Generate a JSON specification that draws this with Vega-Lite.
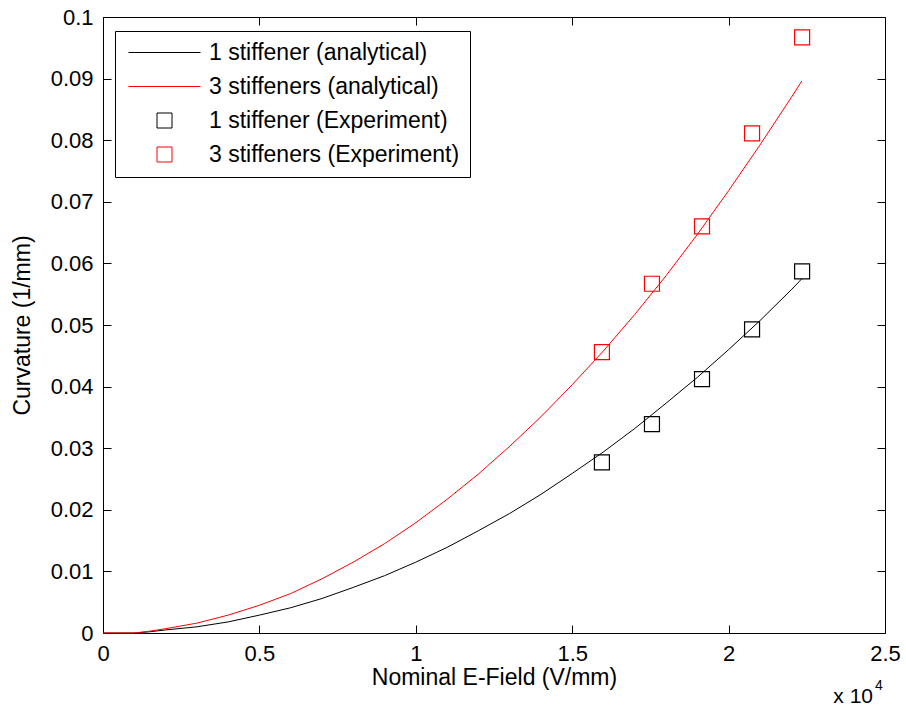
{
  "$schema": "https://vega.github.io/schema/vega-lite/v6.json",
  "width": 782,
  "height": 616,
  "autosize": "none",
  "padding": {"left": 103, "top": 17, "right": 21, "bottom": 75},
  "background": "white",
  "config": {
    "font": "Liberation Sans",
    "view": {"stroke": "black", "strokeWidth": 1},
    "axis": {
      "grid": false,
      "domainColor": "black",
      "tickColor": "black",
      "labelColor": "black",
      "titleColor": "black",
      "labelFont": "Liberation Sans",
      "titleFont": "Liberation Sans",
      "labelFontSize": 22,
      "titleFontSize": 23,
      "titleFontWeight": "normal",
      "tickSize": -8,
      "labelFlush": false,
      "labelOverlap": false
    },
    "legend": {
      "orient": "none",
      "legendX": 12,
      "legendY": 14,
      "strokeColor": "black",
      "fillColor": "white",
      "padding": 10,
      "labelFont": "Liberation Sans",
      "labelFontSize": 23,
      "labelColor": "black",
      "labelOffset": 33,
      "symbolOffset": 28,
      "rowPadding": 10,
      "symbolSize": 225,
      "symbolStrokeWidth": 1,
      "labelLimit": 400
    }
  },
  "datasets": {
    "analytical": [
      {"field": 0, "curvature": 0, "series": "1 stiffener (analytical)"},
      {"field": 0.1, "curvature": 0, "series": "1 stiffener (analytical)"},
      {"field": 0.15, "curvature": 0.0002, "series": "1 stiffener (analytical)"},
      {"field": 0.2, "curvature": 0.0005, "series": "1 stiffener (analytical)"},
      {"field": 0.3, "curvature": 0.001, "series": "1 stiffener (analytical)"},
      {"field": 0.4, "curvature": 0.0018, "series": "1 stiffener (analytical)"},
      {"field": 0.5, "curvature": 0.0029, "series": "1 stiffener (analytical)"},
      {"field": 0.6, "curvature": 0.0041, "series": "1 stiffener (analytical)"},
      {"field": 0.7, "curvature": 0.0056, "series": "1 stiffener (analytical)"},
      {"field": 0.8, "curvature": 0.0074, "series": "1 stiffener (analytical)"},
      {"field": 0.9, "curvature": 0.0093, "series": "1 stiffener (analytical)"},
      {"field": 1.0, "curvature": 0.0115, "series": "1 stiffener (analytical)"},
      {"field": 1.1, "curvature": 0.0139, "series": "1 stiffener (analytical)"},
      {"field": 1.2, "curvature": 0.0166, "series": "1 stiffener (analytical)"},
      {"field": 1.3, "curvature": 0.0194, "series": "1 stiffener (analytical)"},
      {"field": 1.4, "curvature": 0.0225, "series": "1 stiffener (analytical)"},
      {"field": 1.5, "curvature": 0.0259, "series": "1 stiffener (analytical)"},
      {"field": 1.6, "curvature": 0.0294, "series": "1 stiffener (analytical)"},
      {"field": 1.7, "curvature": 0.0332, "series": "1 stiffener (analytical)"},
      {"field": 1.8, "curvature": 0.0373, "series": "1 stiffener (analytical)"},
      {"field": 1.9, "curvature": 0.0415, "series": "1 stiffener (analytical)"},
      {"field": 2.0, "curvature": 0.046, "series": "1 stiffener (analytical)"},
      {"field": 2.1, "curvature": 0.0507, "series": "1 stiffener (analytical)"},
      {"field": 2.2, "curvature": 0.0557, "series": "1 stiffener (analytical)"},
      {"field": 2.234, "curvature": 0.0575, "series": "1 stiffener (analytical)"},
      {"field": 0, "curvature": 0, "series": "3 stiffeners (analytical)"},
      {"field": 0.1, "curvature": 0, "series": "3 stiffeners (analytical)"},
      {"field": 0.15, "curvature": 0.0003, "series": "3 stiffeners (analytical)"},
      {"field": 0.2, "curvature": 0.0007, "series": "3 stiffeners (analytical)"},
      {"field": 0.3, "curvature": 0.0016, "series": "3 stiffeners (analytical)"},
      {"field": 0.4, "curvature": 0.0029, "series": "3 stiffeners (analytical)"},
      {"field": 0.5, "curvature": 0.0045, "series": "3 stiffeners (analytical)"},
      {"field": 0.6, "curvature": 0.0064, "series": "3 stiffeners (analytical)"},
      {"field": 0.7, "curvature": 0.0088, "series": "3 stiffeners (analytical)"},
      {"field": 0.8, "curvature": 0.0115, "series": "3 stiffeners (analytical)"},
      {"field": 0.9, "curvature": 0.0145, "series": "3 stiffeners (analytical)"},
      {"field": 1.0, "curvature": 0.0179, "series": "3 stiffeners (analytical)"},
      {"field": 1.1, "curvature": 0.0217, "series": "3 stiffeners (analytical)"},
      {"field": 1.2, "curvature": 0.0258, "series": "3 stiffeners (analytical)"},
      {"field": 1.3, "curvature": 0.0303, "series": "3 stiffeners (analytical)"},
      {"field": 1.4, "curvature": 0.0351, "series": "3 stiffeners (analytical)"},
      {"field": 1.5, "curvature": 0.0403, "series": "3 stiffeners (analytical)"},
      {"field": 1.6, "curvature": 0.0458, "series": "3 stiffeners (analytical)"},
      {"field": 1.7, "curvature": 0.0517, "series": "3 stiffeners (analytical)"},
      {"field": 1.8, "curvature": 0.058, "series": "3 stiffeners (analytical)"},
      {"field": 1.9, "curvature": 0.0647, "series": "3 stiffeners (analytical)"},
      {"field": 2.0, "curvature": 0.0718, "series": "3 stiffeners (analytical)"},
      {"field": 2.1, "curvature": 0.0792, "series": "3 stiffeners (analytical)"},
      {"field": 2.2, "curvature": 0.0869, "series": "3 stiffeners (analytical)"},
      {"field": 2.234, "curvature": 0.0896, "series": "3 stiffeners (analytical)"}
    ],
    "experiment": [
      {"field": 1.595, "curvature": 0.0277, "series": "1 stiffener (Experiment)"},
      {"field": 1.755, "curvature": 0.0339, "series": "1 stiffener (Experiment)"},
      {"field": 1.915, "curvature": 0.0412, "series": "1 stiffener (Experiment)"},
      {"field": 2.075, "curvature": 0.0493, "series": "1 stiffener (Experiment)"},
      {"field": 2.235, "curvature": 0.0587, "series": "1 stiffener (Experiment)"},
      {"field": 1.595, "curvature": 0.0456, "series": "3 stiffeners (Experiment)"},
      {"field": 1.755, "curvature": 0.0567, "series": "3 stiffeners (Experiment)"},
      {"field": 1.915, "curvature": 0.066, "series": "3 stiffeners (Experiment)"},
      {"field": 2.075, "curvature": 0.0811, "series": "3 stiffeners (Experiment)"},
      {"field": 2.235, "curvature": 0.0967, "series": "3 stiffeners (Experiment)"}
    ],
    "note": [
      {"x": 2.5, "y": 0, "base": "x 10", "exp": "4"}
    ]
  },
  "layer": [
    {
      "data": {"name": "analytical"},
      "mark": {"type": "line", "strokeWidth": 1},
      "encoding": {
        "x": {
          "field": "field", "type": "quantitative",
          "scale": {"domain": [0, 2.5], "nice": false, "zero": false},
          "axis": {"orient": "bottom", "values": [0, 0.5, 1, 1.5, 2, 2.5], "format": "~g", "title": "Nominal E-Field (V/mm)", "labelPadding": 18, "titlePadding": 2}
        },
        "y": {
          "field": "curvature", "type": "quantitative",
          "scale": {"domain": [0, 0.1], "nice": false, "zero": false},
          "axis": {"orient": "left", "values": [0, 0.01, 0.02, 0.03, 0.04, 0.05, 0.06, 0.07, 0.08, 0.09, 0.1], "format": "~g", "title": "Curvature (1/mm)", "labelPadding": 18, "titlePadding": 16}
        },
        "color": {
          "field": "series", "type": "nominal",
          "scale": {
            "domain": ["1 stiffener (analytical)", "3 stiffeners (analytical)", "1 stiffener (Experiment)", "3 stiffeners (Experiment)"],
            "range": ["black", "red", "black", "red"]
          },
          "legend": {"title": null}
        }
      }
    },
    {
      "data": {"name": "experiment"},
      "mark": {"type": "point", "filled": false, "strokeWidth": 1.2, "opacity": 1, "size": 225},
      "encoding": {
        "x": {
          "field": "field", "type": "quantitative",
          "axis": {"orient": "top", "values": [0, 0.5, 1, 1.5, 2, 2.5], "labels": false, "title": null, "domain": false}
        },
        "y": {
          "field": "curvature", "type": "quantitative",
          "axis": {"orient": "right", "values": [0, 0.01, 0.02, 0.03, 0.04, 0.05, 0.06, 0.07, 0.08, 0.09, 0.1], "labels": false, "title": null, "domain": false}
        },
        "color": {"field": "series", "type": "nominal", "legend": {"title": null}},
        "shape": {
          "field": "series", "type": "nominal",
          "scale": {
            "domain": ["1 stiffener (analytical)", "3 stiffeners (analytical)", "1 stiffener (Experiment)", "3 stiffeners (Experiment)"],
            "range": ["M-4.8,0H4.8", "M-4.8,0H4.8", "square", "square"]
          },
          "legend": {"title": null}
        }
      }
    },
    {
      "data": {"name": "note"},
      "mark": {"type": "text", "align": "right", "baseline": "alphabetic", "dx": -12, "dy": 70, "fontSize": 21, "font": "Liberation Sans", "color": "black"},
      "encoding": {
        "x": {"field": "x", "type": "quantitative", "axis": null},
        "y": {"field": "y", "type": "quantitative", "axis": null},
        "text": {"field": "base"}
      }
    },
    {
      "data": {"name": "note"},
      "mark": {"type": "text", "align": "left", "baseline": "alphabetic", "dx": -10, "dy": 57, "fontSize": 14, "font": "Liberation Sans", "color": "black"},
      "encoding": {
        "x": {"field": "x", "type": "quantitative", "axis": null},
        "y": {"field": "y", "type": "quantitative", "axis": null},
        "text": {"field": "exp"}
      }
    }
  ],
  "resolve": {"axis": {"x": "independent", "y": "independent"}}
}
